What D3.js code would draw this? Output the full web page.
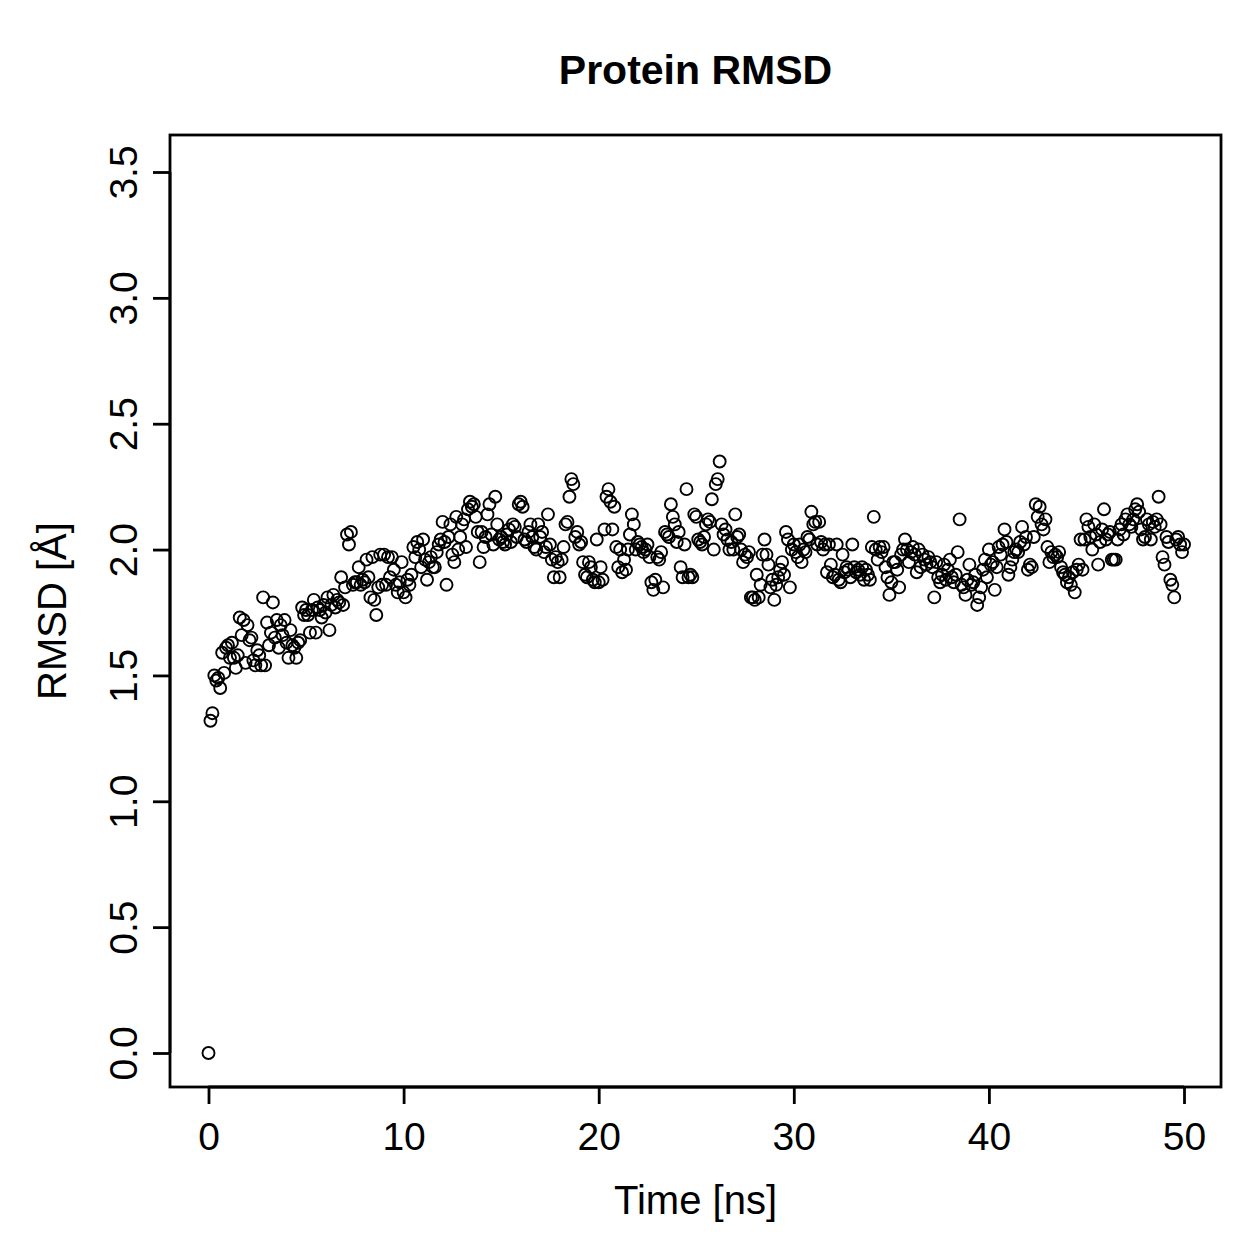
<!DOCTYPE html>
<html>
<head>
<meta charset="utf-8">
<script src="https://cdn.jsdelivr.net/npm/d3@7"></script>
<style>
  html, body { margin: 0; padding: 0; background: #fff; }
  svg text { font-family: "Liberation Sans", Arial, Helvetica, sans-serif; fill: #000; }
</style>
</head>
<body>
<svg id="chart" width="1259" height="1259"></svg>
<script>
// RMSD (Å), one value every 0.1 ns, rows of 1 ns
const rmsd = [
  0.00, 1.32, 1.35, 1.50, 1.48, 1.49, 1.45, 1.59, 1.51, 1.61,
  1.62, 1.57, 1.63, 1.57, 1.53, 1.58, 1.73, 1.66, 1.72, 1.55,
  1.70, 1.64, 1.65, 1.56, 1.54, 1.60, 1.58, 1.54, 1.81, 1.54,
  1.71, 1.62, 1.67, 1.79, 1.65, 1.72, 1.61, 1.70, 1.66, 1.72,
  1.63, 1.57, 1.68, 1.62, 1.61, 1.57, 1.63, 1.64, 1.77, 1.74,
  1.76, 1.74, 1.67, 1.76, 1.80, 1.67, 1.77, 1.76, 1.73, 1.78,
  1.75, 1.81, 1.68, 1.78, 1.82, 1.77, 1.80, 1.79, 1.89, 1.78,
  1.85, 2.06, 2.02, 2.07, 1.86, 1.87, 1.87, 1.93, 1.86, 1.88,
  1.87, 1.96, 1.89, 1.81, 1.97, 1.80, 1.74, 1.85, 1.98, 1.86,
  1.98, 1.86, 1.97, 1.89, 1.97, 1.92, 1.86, 1.83, 1.87, 1.95,
  1.83, 1.81, 1.88, 1.86, 1.90, 2.01, 1.97, 2.03, 2.00, 1.93,
  2.04, 1.96, 1.88, 1.95, 1.97, 1.93, 1.93, 1.99, 2.02, 2.04,
  2.11, 2.03, 1.86, 2.05, 2.10, 1.98, 1.95, 2.13, 2.00, 2.05,
  2.10, 2.12, 2.01, 2.16, 2.19, 2.17, 2.18, 2.13, 2.07, 1.95,
  2.07, 2.01, 2.05, 2.14, 2.18, 2.06, 2.02, 2.21, 2.10, 2.04,
  2.05, 2.03, 2.02, 2.06, 2.08, 2.03, 2.10, 2.09, 2.05, 2.18,
  2.19, 2.17, 2.04, 2.03, 2.07, 2.10, 2.05, 2.01, 2.00, 2.10,
  2.05, 2.07, 1.99, 2.01, 2.14, 2.02, 1.96, 1.89, 1.97, 1.95,
  1.89, 1.96, 2.01, 2.10, 2.11, 2.21, 2.28, 2.26, 2.05, 2.07,
  2.02, 2.03, 1.95, 1.90, 1.89, 1.95, 1.93, 1.88, 1.87, 2.04,
  1.87, 1.93, 1.88, 2.08, 2.21, 2.24, 2.19, 2.08, 2.17, 2.01,
  1.93, 2.00, 1.91, 1.96, 1.92, 2.00, 2.06, 2.14, 2.10, 2.00,
  2.03, 2.02, 2.01, 1.99, 2.00, 2.02, 1.97, 1.87, 1.84, 1.88,
  1.97, 1.96, 1.99, 1.85, 2.07, 2.06, 2.05, 2.18, 2.13, 2.10,
  2.03, 2.07, 1.93, 1.89, 2.02, 2.24, 1.89, 1.90, 1.89, 2.14,
  2.13, 2.04, 2.03, 2.02, 2.05, 2.10, 2.12, 2.11, 2.20, 2.00,
  2.26, 2.28, 2.35, 2.10, 2.06, 2.08, 2.04, 2.00, 2.03, 2.00,
  2.14, 2.05, 2.06, 2.00, 1.95, 1.98, 1.97, 1.99, 1.81, 1.81,
  1.80, 1.90, 1.81, 1.86, 1.98, 2.04, 1.98, 1.94, 1.85, 1.88,
  1.80, 1.86, 1.89, 1.92, 1.95, 1.90, 2.07, 2.04, 1.85, 2.00,
  2.02, 1.99, 1.97, 2.02, 1.95, 2.00, 1.99, 2.05, 2.04, 2.15,
  2.10, 2.11, 2.02, 2.11, 2.03, 2.00, 2.02, 1.91, 2.02, 1.94,
  1.89, 1.90, 2.02, 1.88, 1.87, 1.98, 1.91, 1.93, 1.92, 1.89,
  2.02, 1.93, 1.91, 1.92, 1.90, 1.93, 1.88, 1.92, 1.90, 1.88,
  2.01, 2.13, 2.00, 1.96, 2.01, 1.99, 2.01, 1.93, 1.89, 1.82,
  1.87, 1.95, 1.95, 1.92, 1.85, 1.98, 2.00, 2.04, 2.00, 1.95,
  1.99, 2.01, 1.98, 1.91, 2.00, 1.93, 1.98, 1.96, 1.94, 1.97,
  1.95, 1.93, 1.81, 1.95, 1.89, 1.87, 1.90, 1.94, 1.88, 1.92,
  1.96, 1.89, 1.87, 1.90, 1.99, 2.12, 1.86, 1.85, 1.82, 1.88,
  1.94, 1.86, 1.87, 1.90, 1.78, 1.81, 1.85, 1.92, 1.96, 1.89,
  2.00, 1.94, 1.95, 1.84, 1.93, 2.01, 1.98, 2.02, 2.08, 2.03,
  1.90, 1.93, 1.96, 1.99, 2.00, 1.99, 2.03, 2.09, 2.02, 2.05,
  1.92, 1.94, 1.93, 2.05, 2.18, 2.13, 2.17, 2.10, 2.08, 2.12,
  2.01, 1.95, 1.99, 1.97, 1.98, 1.97, 1.99, 1.93, 1.91, 1.90,
  1.87, 1.89, 1.86, 1.91, 1.83, 1.92, 1.94, 2.04, 1.92, 2.04,
  2.12, 2.09, 2.05, 2.00, 2.10, 2.06, 1.94, 2.03, 2.08, 2.16,
  2.04, 2.06, 2.07, 1.96, 1.96, 1.96, 2.04, 2.08, 2.10, 2.06,
  2.12, 2.14, 2.10, 2.09, 2.12, 2.16, 2.18, 2.15, 2.08, 2.04,
  2.05, 2.12, 2.10, 2.04, 2.11, 2.09, 2.12, 2.21, 2.10, 1.97,
  1.94, 2.05, 2.03, 1.88, 1.86, 1.81, 2.04, 2.05, 2.02, 1.99,
  2.02
];
const timeStep = 0.1;
const xTicks = [0, 10, 20, 30, 40, 50];
const yTicks = [0.0, 0.5, 1.0, 1.5, 2.0, 2.5, 3.0, 3.5];

const title = "Protein RMSD";
const xLabel = "Time [ns]";
const yLabel = "RMSD [Å]";

const svg = d3.select("#chart");

// plot box (R style, axis range padded 4%)
const box = { left: 170, right: 1221, top: 135, bottom: 1087 };

const x = d3.scaleLinear().domain([0, 50]).range([208.5, 1184]);
const y = d3.scaleLinear().domain([0, 3.5]).range([1053, 172]);

const datos = rmsd.map((v, i) => ({ t: i * timeStep, v }));

// points
svg.append("g")
  .selectAll("circle")
  .data(datos)
  .join("circle")
  .attr("cx", d => x(d.t))
  .attr("cy", d => y(d.v))
  .attr("r", 6)
  .attr("fill", "none")
  .attr("stroke", "#000")
  .attr("stroke-width", 1.9);

// box
svg.append("rect")
  .attr("x", box.left)
  .attr("y", box.top)
  .attr("width", box.right - box.left)
  .attr("height", box.bottom - box.top)
  .attr("fill", "none")
  .attr("stroke", "#000")
  .attr("stroke-width", 2.8);

// x axis
const ejeX = svg.append("g")
  .attr("transform", `translate(0,${box.bottom})`)
  .call(d3.axisBottom(x).tickValues(xTicks).tickSize(17).tickPadding(18).tickFormat(d3.format("d")));
ejeX.select(".domain")
  .attr("d", `M${x(0)},0H${x(50)}`)
  .attr("stroke-width", 2.8);
ejeX.selectAll(".tick line").attr("stroke-width", 2.8);
ejeX.selectAll(".tick text")
  .attr("font-size", 39)
  .attr("font-family", "Liberation Sans, Arial, sans-serif");

// y axis
const ejeY = svg.append("g")
  .attr("transform", `translate(${box.left},0)`)
  .call(d3.axisLeft(y).tickValues(yTicks).tickSize(17).tickFormat(d3.format(".1f")));
ejeY.select(".domain")
  .attr("d", `M0,${y(0)}V${y(3.5)}`)
  .attr("stroke-width", 2.8);
ejeY.selectAll(".tick line").attr("stroke-width", 2.8);
ejeY.selectAll(".tick text")
  .attr("font-size", 39)
  .attr("font-family", "Liberation Sans, Arial, sans-serif")
  .attr("x", null)
  .attr("dy", null)
  .attr("text-anchor", "middle")
  .attr("transform", "translate(-33,0) rotate(-90)");

// title and axis labels
svg.append("text")
  .attr("x", (box.left + box.right) / 2)
  .attr("y", 84)
  .attr("text-anchor", "middle")
  .attr("font-size", 41)
  .attr("font-weight", "bold")
  .text(title);

svg.append("text")
  .attr("x", (box.left + box.right) / 2)
  .attr("y", 1214)
  .attr("text-anchor", "middle")
  .attr("font-size", 40)
  .text(xLabel);

svg.append("text")
  .attr("transform", `translate(66,${(box.top + box.bottom) / 2}) rotate(-90)`)
  .attr("text-anchor", "middle")
  .attr("font-size", 40)
  .text(yLabel);
</script>
</body>
</html>
